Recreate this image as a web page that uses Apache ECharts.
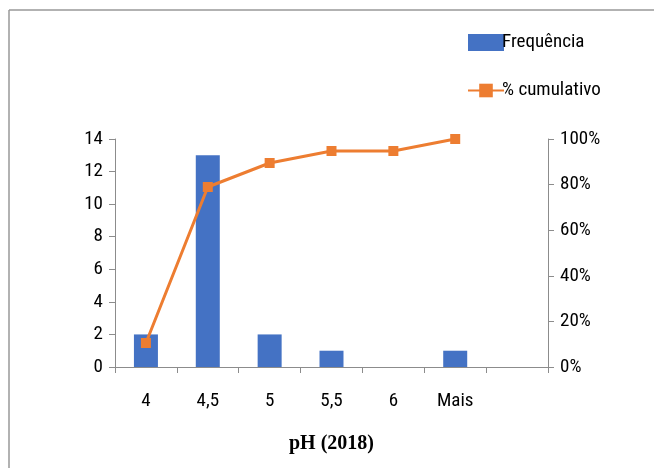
<!DOCTYPE html>
<html>
<head>
<meta charset="utf-8">
<script src="https://cdn.jsdelivr.net/npm/echarts@6/dist/echarts.min.js"></script>
<style>
  html, body { margin: 0; padding: 0; background: #fff; }
  #chart { width: 654px; height: 468px; }
</style>
</head>
<body>
<div id="chart"></div>
<script>
// categorias de pH
const categories = ["4", "4,5", "5", "5,5", "6", "Mais", ""];
// frequência por classe
const frequencia = [2, 13, 2, 1, 0, 1, null];
// % cumulativo (fração)
const cumulativo = [0.1053, 0.7895, 0.8947, 0.9474, 0.9474, 1.0, null];

const font = "'Liberation Sans Narrow', 'Roboto Condensed', 'DejaVu Sans Condensed', sans-serif";
const axisGray = "#8c8c8c";

const chart = echarts.init(document.getElementById("chart"));

chart.setOption({
  animation: false,
  graphic: [
    {
      type: "line",
      shape: { x1: 9, y1: 10, x2: 654, y2: 10 },
      style: { stroke: "#999", lineWidth: 1.5 },
    },
    {
      type: "line",
      shape: { x1: 9, y1: 10, x2: 9, y2: 468 },
      style: { stroke: "#999", lineWidth: 1.5 },
    },
  ],
  legend: {
    orient: "vertical",
    left: 462,
    top: 28,
    itemGap: 29,
    itemWidth: 36,
    itemHeight: 17,
    textStyle: { fontFamily: font, fontSize: 19, color: "#000", padding: [0, 0, 0, -7] },
    data: [
      { name: "Frequência", icon: "rect" },
      { name: "% cumulativo" },
    ],
  },
  grid: { left: 115, right: 106, top: 139, bottom: 101 },
  xAxis: {
    type: "category",
    data: categories,
    name: "pH (2018)",
    nameLocation: "middle",
    nameGap: 67,
    nameTextStyle: {
      fontFamily: "'Liberation Serif', 'DejaVu Serif', serif",
      fontWeight: "bold",
      fontSize: 20,
      color: "#000",
    },
    axisLine: { lineStyle: { color: axisGray, width: 1 } },
    axisTick: { show: true, length: 6, lineStyle: { color: axisGray } },
    axisLabel: { fontFamily: font, fontSize: 19, color: "#000", margin: 25 },
  },
  yAxis: [
    {
      type: "value",
      min: 0,
      max: 14,
      interval: 2,
      splitLine: { show: false },
      axisLine: { show: true, lineStyle: { color: axisGray } },
      axisTick: { show: true, length: 6, lineStyle: { color: axisGray } },
      axisLabel: { fontFamily: font, fontSize: 19, color: "#000", margin: 12 },
    },
    {
      type: "value",
      min: 0,
      max: 1,
      interval: 0.2,
      splitLine: { show: false },
      axisLine: { show: true, lineStyle: { color: axisGray } },
      axisTick: { show: true, length: 6, lineStyle: { color: axisGray } },
      axisLabel: {
        fontFamily: font,
        fontSize: 19,
        color: "#000",
        margin: 12,
        formatter: (v) => Math.round(v * 100) + "%",
      },
    },
  ],
  series: [
    {
      name: "Frequência",
      type: "bar",
      data: frequencia,
      barWidth: 24,
      itemStyle: { color: "#4472C4" },
    },
    {
      name: "% cumulativo",
      type: "line",
      yAxisIndex: 1,
      data: cumulativo,
      symbol: "rect",
      symbolSize: 10,
      lineStyle: { color: "#ED7D31", width: 3 },
      itemStyle: { color: "#ED7D31" },
    },
  ],
});
</script>
</body>
</html>
